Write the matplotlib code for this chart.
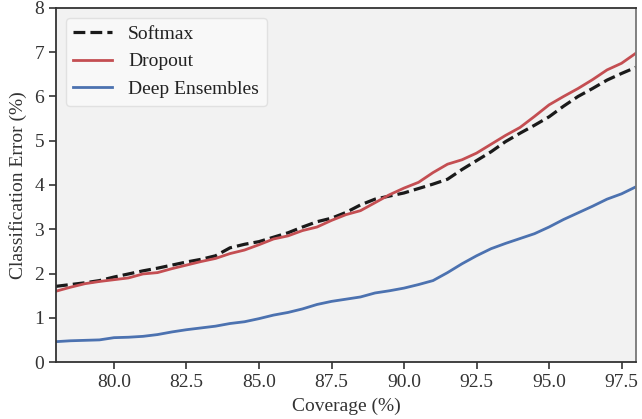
import numpy as np
import matplotlib
matplotlib.use('Agg')
import matplotlib.pyplot as plt

coverage = np.arange(78, 98.01, 0.5)  # 覆盖率 (%)

softmax = [1.71, 1.75, 1.79, 1.84, 1.92, 1.99, 2.06, 2.12, 2.19, 2.26,
           2.32, 2.40, 2.58, 2.66, 2.72, 2.82, 2.92, 3.05, 3.17, 3.25,
           3.38, 3.55, 3.68, 3.75, 3.82, 3.92, 4.02, 4.13, 4.35, 4.55,
           4.75, 4.98, 5.17, 5.35, 5.54, 5.78, 6.00, 6.18, 6.37, 6.52, 6.66]
dropout = [1.60, 1.69, 1.77, 1.82, 1.86, 1.90, 1.99, 2.02, 2.11, 2.19,
           2.27, 2.34, 2.45, 2.53, 2.65, 2.78, 2.85, 2.97, 3.05, 3.20,
           3.33, 3.42, 3.60, 3.78, 3.93, 4.06, 4.28, 4.47, 4.57, 4.72,
           4.92, 5.12, 5.30, 5.55, 5.81, 6.00, 6.18, 6.38, 6.60, 6.75, 6.98]
ensembles = [0.46, 0.48, 0.49, 0.50, 0.55, 0.56, 0.58, 0.62, 0.68, 0.73,
             0.77, 0.81, 0.87, 0.91, 0.98, 1.06, 1.12, 1.20, 1.30, 1.37,
             1.42, 1.47, 1.56, 1.61, 1.67, 1.75, 1.84, 2.02, 2.22, 2.40,
             2.56, 2.68, 2.79, 2.90, 3.05, 3.22, 3.37, 3.52, 3.68, 3.80, 3.96]

plt.rcParams['font.family'] = ['Liberation Serif', 'DejaVu Serif']

fig = plt.figure(figsize=(6.42, 4.19), dpi=100)
ax = fig.add_axes([0.0872, 0.136, 0.9035, 0.845])
ax.set_facecolor('#f2f2f2')

ax.plot(coverage, softmax, color='#1a1a1a', linestyle='--', linewidth=2.3, label='Softmax')
ax.plot(coverage, dropout, color='#c44e52', linewidth=2, label='Dropout')
ax.plot(coverage, ensembles, color='#4c72b0', linewidth=2, label='Deep Ensembles')

ax.set_xlim(78, 98)
ax.set_ylim(0, 8)
ax.set_xticks([80, 82.5, 85, 87.5, 90, 92.5, 95, 97.5])
ax.set_xticklabels(['80.0', '82.5', '85.0', '87.5', '90.0', '92.5', '95.0', '97.5'])
ax.set_yticks(range(0, 9))
ax.tick_params(labelsize=14, colors='#333333', length=5, width=1.2)
ax.tick_params(top=False, right=False)

for s in ['left', 'bottom', 'top']:
    ax.spines[s].set_color('#333333')
    ax.spines[s].set_linewidth(1.3)
ax.spines['right'].set_color('#777777')
ax.spines['right'].set_linewidth(1.3)

ax.set_xlabel('Coverage (%)', fontsize=14, color='#333333', labelpad=5)
ax.set_ylabel('Classification Error (%)', fontsize=14, color='#333333', labelpad=5)

leg = ax.legend(loc='upper left', fontsize=14, handlelength=2.0, frameon=True,
                facecolor='#fafafa', edgecolor='#dddddd')
for t in leg.get_texts():
    t.set_color('#222222')

fig.savefig('out.png', dpi=100)
